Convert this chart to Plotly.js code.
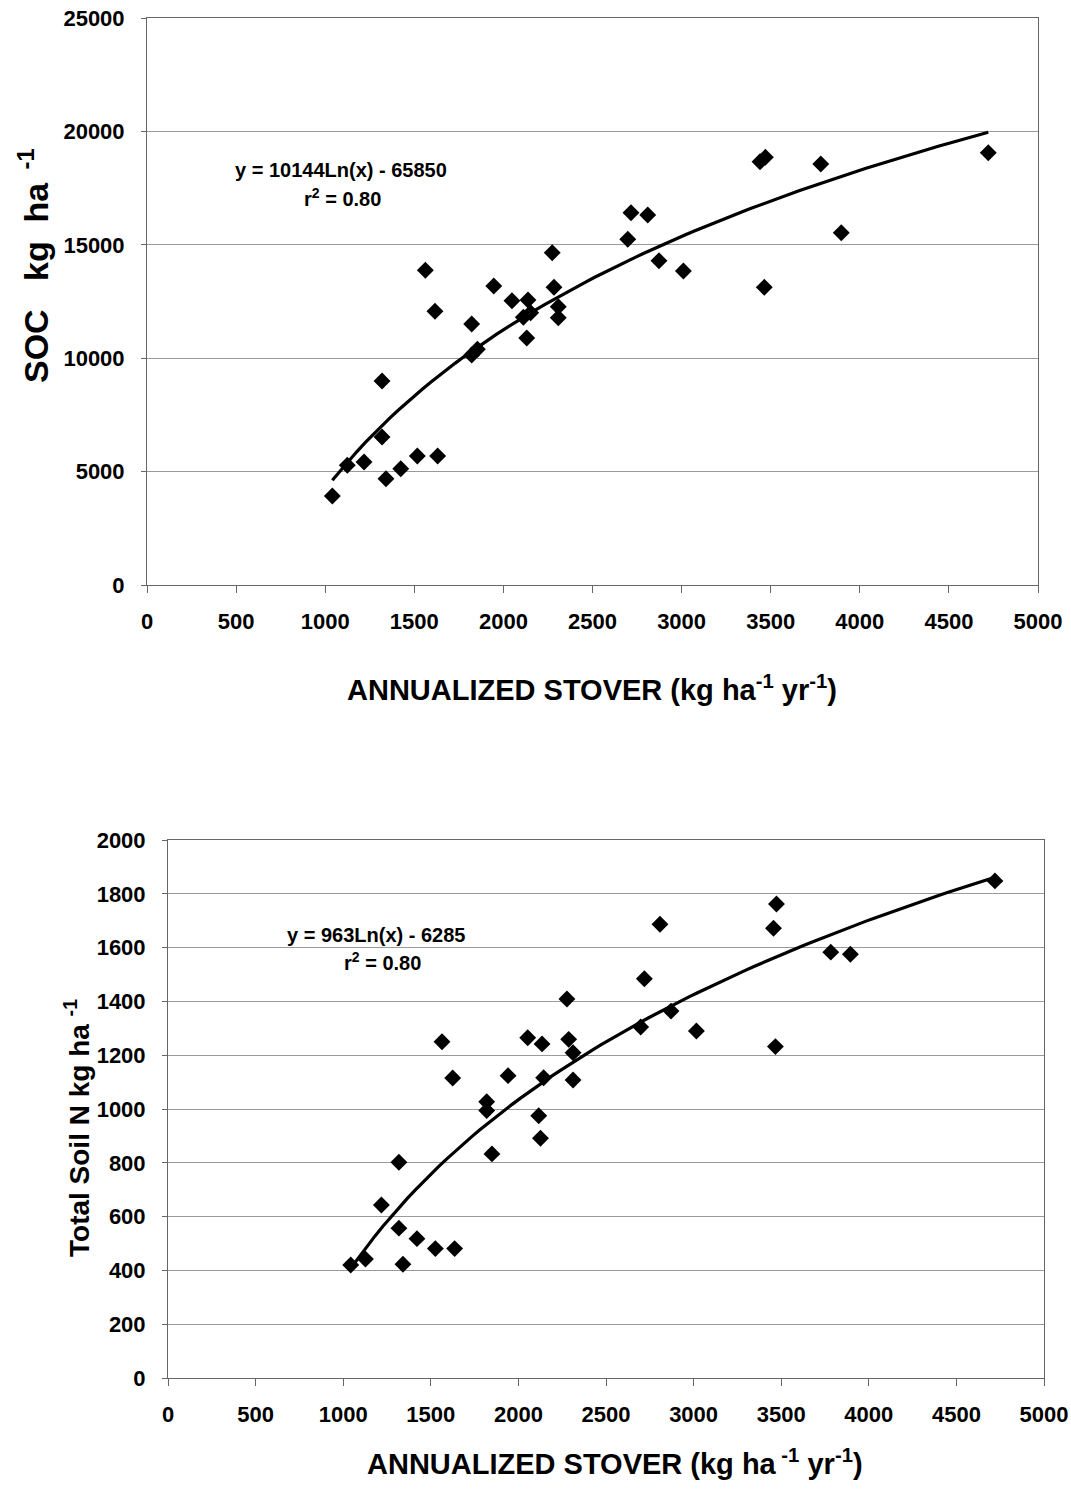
<!DOCTYPE html>
<html>
<head>
<meta charset="utf-8">
<script src="https://cdn.plot.ly/plotly-3.0.1.min.js"></script>
<style>
html,body{margin:0;padding:0;background:#fff;}
#chart{width:1071px;height:1493px;}
</style>
</head>
<body>
<div id="chart"></div>
<script>
// ---- Top panel: SOC vs annualized stover ----
const socStover = [1040,1124,1218,1341,1319,1319,1424,1517,1631,1562,1616,1822,1822,1854,1946,2048,2138,2112,2153,2131,2274,2284,2308,2308,2716,2810,2698,2873,3010,3440,3470,3464,3781,3896,4721];
const socValues = [3924,5278,5423,4687,6526,8995,5128,5688,5688,13876,12068,11508,10141,10392,13183,12535,12566,11803,12006,10891,14652,13126,12271,11786,16415,16314,15242,14299,13845,18664,18858,13126,18563,15534,19061];
const socFit = {a: 10144, b: -65850};   // y = 10144Ln(x) - 65850

// ---- Bottom panel: Total soil N vs annualized stover ----
const nStover = [1043,1127,1341,1318,1218,1318,1421,1526,1636,1564,1625,1849,1819,1819,1941,2053,2135,2116,2126,2277,2287,2312,2312,2144,2719,2808,2698,2871,3016,3473,3456,3467,3783,3895,4720];
const nValues = [420,442,423,557,643,802,518,481,481,1250,1115,833,1027,994,1124,1265,1242,975,891,1409,1259,1209,1108,1116,1484,1687,1305,1364,1290,1762,1672,1232,1583,1575,1848];
const nFit = {a: 963, b: -6285};        // y = 963Ln(x) - 6285

const xTicks = [0,500,1000,1500,2000,2500,3000,3500,4000,4500,5000];
const socTicks = [0,5000,10000,15000,20000,25000];
const nTicks = [0,200,400,600,800,1000,1200,1400,1600,1800,2000];

function fitLine(xs, fit){
  const lo = Math.min(...xs), hi = Math.max(...xs);
  const n = 80, X = [], Y = [];
  for(let i=0;i<=n;i++){
    const x = lo + (hi-lo)*i/n;
    X.push(x); Y.push(fit.a*Math.log(x)+fit.b);
  }
  return {X, Y};
}
const f1 = fitLine(socStover, socFit);
const f2 = fitLine(nStover, nFit);

const W = 1071, H = 1493;
const px = v => v/W, py = v => 1 - v/H;
const FONT = 'Liberation Sans, Arial, sans-serif';

const marker = {symbol:'diamond', size:13, color:'#000'};
const traces = [
  {x:socStover, y:socValues, mode:'markers', type:'scatter', marker, xaxis:'x', yaxis:'y', hoverinfo:'x+y'},
  {x:f1.X, y:f1.Y, mode:'lines', type:'scatter', line:{color:'#000', width:3.2}, xaxis:'x', yaxis:'y', hoverinfo:'skip'},
  {x:nStover, y:nValues, mode:'markers', type:'scatter', marker, xaxis:'x2', yaxis:'y2', hoverinfo:'x+y'},
  {x:f2.X, y:f2.Y, mode:'lines', type:'scatter', line:{color:'#000', width:3.2}, xaxis:'x2', yaxis:'y2', hoverinfo:'skip'}
];

const tickFont = {family:FONT, size:22, color:'#000', weight:'bold'};
function xAxis(domain, anchor){
  return {domain, anchor, range:[0,5000], tickvals:xTicks, ticktext:xTicks.map(String),
    showgrid:false, zeroline:false, showline:true, mirror:true, linecolor:'#666', linewidth:1,
    ticks:'outside', ticklen:7, tickcolor:'#666', tickfont:tickFont, ticklabelstandoff:10, fixedrange:true};
}
function yAxis(domain, anchor, range, vals){
  return {domain, anchor, range, tickvals:vals, ticktext:vals.map(String),
    showgrid:true, gridcolor:'#9a9a9a', gridwidth:1, zeroline:false, showline:true, mirror:true,
    linecolor:'#666', linewidth:1, ticks:'outside', ticklen:5, tickcolor:'#666',
    tickfont:tickFont, ticklabelstandoff:12, fixedrange:true};
}

const eqFont = {family:FONT, size:20, color:'#000', weight:'bold'};
const titleFont = {family:FONT, size:29, color:'#000', weight:'bold'};
function ann(text, x, y, font, extra){
  return Object.assign({text, x:px(x), y:py(y), xref:'paper', yref:'paper', showarrow:false,
    xanchor:'center', yanchor:'middle', font}, extra||{});
}
const annotations = [
  ann('y = 10144Ln(x) - 65850', 341, 170, eqFont),
  ann('r<sup>2</sup> = 0.80', 343, 197, eqFont),
  ann('y = 963Ln(x) - 6285', 376, 935, eqFont),
  ann('r<sup>2</sup> = 0.80', 382, 961, eqFont),
  ann('ANNUALIZED STOVER (kg ha<sup>-1</sup> yr<sup>-1</sup>)', 592, 688, titleFont),
  ann('ANNUALIZED STOVER (kg ha<sup> -1</sup> yr<sup>-1</sup>)', 615, 1462, titleFont),
  ann('SOC&nbsp;&nbsp; kg&nbsp; ha<sup>&nbsp;&nbsp;-1</sup>', 33, 266, {family:FONT, size:34, color:'#000', weight:'bold'}, {textangle:-90}),
  ann('Total Soil N kg ha <sup>-1</sup>', 77, 1128, {family:FONT, size:28, color:'#000', weight:'bold'}, {textangle:-90})
];

const layout = {
  width:W, height:H, margin:{l:0,r:0,t:0,b:0}, showlegend:false,
  paper_bgcolor:'#fff', plot_bgcolor:'#fff',
  xaxis: xAxis([px(147), px(1038)], 'y'),
  yaxis: yAxis([py(585), py(18)], 'x', [0,25000], socTicks),
  xaxis2: xAxis([px(168), px(1044)], 'y2'),
  yaxis2: yAxis([py(1378), py(840)], 'x2', [0,2000], nTicks),
  annotations
};
Plotly.newPlot('chart', traces, layout, {displayModeBar:false, staticPlot:true});
</script>
</body>
</html>
